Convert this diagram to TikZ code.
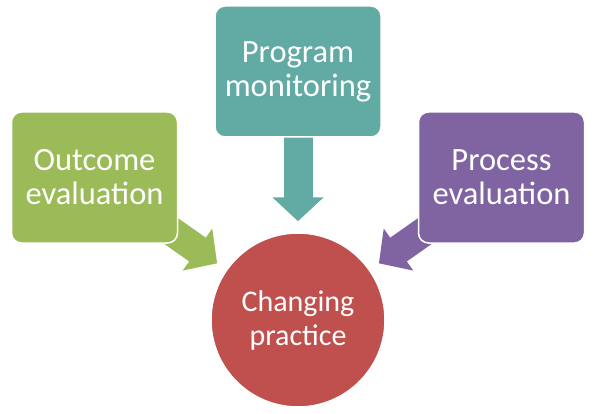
\documentclass[tikz,border=0pt]{standalone}
\usepackage{fontspec}
\setmainfont{Carlito}
\usetikzlibrary{arrows.meta}
\usetikzlibrary{backgrounds}

\definecolor{outgreen}{RGB}{155,187,89}
\definecolor{progteal}{RGB}{98,171,164}
\definecolor{procpurple}{RGB}{128,100,162}
\definecolor{hubred}{RGB}{192,80,77}

\begin{document}
\begin{tikzpicture}[x=1pt,y=-1pt,
  box/.style={rectangle,rounded corners=10pt,draw=white,line width=1.5pt,minimum width=166pt,minimum height=131pt,inner sep=0pt,text=white,align=center,font=\fontsize{32.5}{34}\selectfont},
  hub/.style={circle,draw=white,line width=1.5pt,minimum size=174pt,inner sep=0pt,text=white,align=center,font=\fontsize{30}{34}\selectfont},
  fat arrow/.style={line width=29pt,-{Triangle[length=24pt,width=50pt]},shorten >=11pt,shorten <=-12pt}]

				\useasboundingbox (0,0) rectangle (596,414);

				\node[hub,fill=hubred] (chg) at (298,320) {Changing\\practice};
				\node[box,fill=progteal] (prog) at (298,71.5) {Program\\monitoring};
				\node[box,fill=outgreen] (out) at (94.5,177.5) {Outcome\\evaluation};
				\node[box,fill=procpurple] (proc) at (501.5,177.5) {Process\\evaluation};

				% block arrows go under the boxes
				\begin{pgfonlayer}{background}
    				\path[fat arrow]
    				(prog) edge[progteal] (chg)
				(out) edge[outgreen] (chg)
				(proc) edge[procpurple] (chg);
				\end{pgfonlayer}

\end{tikzpicture}
\end{document}
